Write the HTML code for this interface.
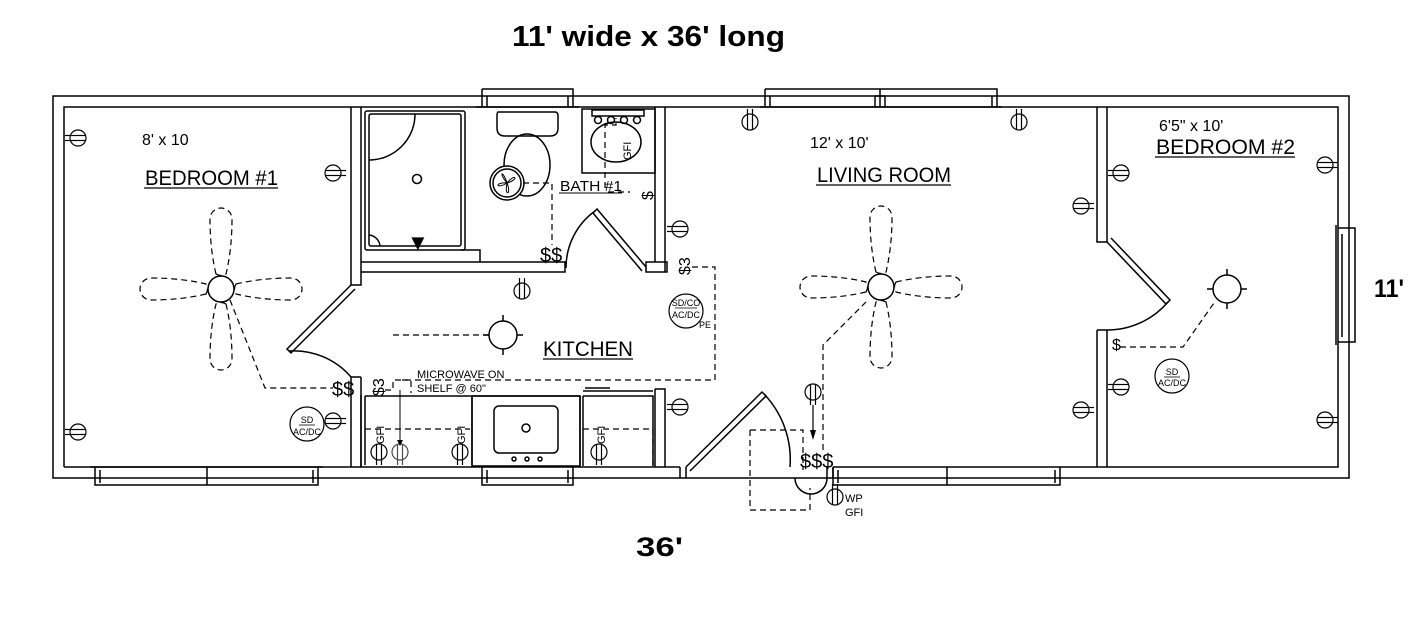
<!DOCTYPE html>
<html><head><meta charset="utf-8"><style>
html,body{margin:0;padding:0;background:#fff;}
svg{display:block}
text{font-family:"Liberation Sans",sans-serif;fill:#000}
</style></head><body>
<svg width="1425" height="617" viewBox="0 0 1425 617" xmlns="http://www.w3.org/2000/svg">
<defs>
<g id="rec" fill="#fff" stroke="#000" stroke-width="1.2"><line x1="0" y1="-2.5" x2="13" y2="-2.5"/><line x1="0" y1="2.5" x2="13" y2="2.5"/><circle r="8"/><line x1="-8" y1="-2.5" x2="8" y2="-2.5"/><line x1="-8" y1="2.5" x2="8" y2="2.5"/></g>
<g id="blade" fill="none" stroke="#000" stroke-width="1.2" stroke-dasharray="6,4"><path d="M-5,-15 Q-11,-40 -11,-70 A11,11 0 0 1 11,-70 Q11,-40 5,-15 Q0,-12 -5,-15Z"/></g>
</defs>
<rect width="1425" height="617" fill="#fff"/>
<text x="512" y="46" font-size="29" font-weight="bold" textLength="273" lengthAdjust="spacingAndGlyphs">11' wide x 36' long</text>
<text x="636" y="556" font-size="27" font-weight="bold" textLength="47" lengthAdjust="spacingAndGlyphs">36'</text>
<text x="1374" y="297" font-size="25" font-weight="bold" textLength="30" lengthAdjust="spacingAndGlyphs">11'</text>

<g fill="none" stroke="#000" stroke-width="1.5">
<rect x="53" y="96" width="1296" height="382"/>
<path d="M64,467 V107 H1338 V467 H833 M680,467 H64"/>
<path d="M351,107 V285 H361 V107 M351,377 V467 M361,377 V467 M351,377 H361"/>
<path d="M361,262 H565 V272 H361"/>
<rect x="365" y="111" width="100" height="139" rx="2"/>
<rect x="369" y="114" width="92" height="132" rx="2"/>
<path d="M461,250 H480 V262"/>
<path d="M369,160 A46,46 0 0 0 415,114"/>
<path d="M369,235 A12,12 0 0 1 380,246"/>
<circle cx="417" cy="179" r="4.5"/>
<path d="M655,107 V262 M665,107 V272 M646,262 H667 V272 H646 Z"/>
<path d="M498,112 H555 Q558,112 558,116 V128 Q558,136 550,136 H505 Q497,136 497,128 V116 Q497,112 498,112Z"/>
<ellipse cx="527" cy="165" rx="23" ry="31"/>
<rect x="582" y="109" width="73" height="64"/>
<rect x="592" y="110" width="52" height="6"/>
<ellipse cx="616" cy="142" rx="25" ry="20"/>
<circle cx="598" cy="120" r="3.5"/><circle cx="611" cy="120" r="3.5"/><circle cx="624" cy="120" r="3.5"/><circle cx="637" cy="120" r="3.5"/>
<circle cx="507" cy="183" r="17" fill="#fff"/><circle cx="507" cy="183" r="14"/>
<path d="M507,183 C498,172 503,170 507,183 C516,172 519,180 507,183 C512,195 504,197 507,183 C496,190 494,182 507,183" stroke-width="1"/>
<path d="M1097,107 V242 H1107 V107 M1097,330 V467 M1107,330 V467 M1097,330 H1107"/>
<path d="M361,395 V467 M365,396 H472 V465 M472,396 H580 V465 M365,396 V465"/>
<rect x="472" y="396" width="108" height="70"/>
<rect x="494" y="406" width="64" height="47" rx="5"/>
<circle cx="526" cy="428" r="4"/>
<circle cx="514" cy="459" r="2"/><circle cx="527" cy="459" r="2"/><circle cx="540" cy="459" r="2"/>
<path d="M583,396 H653 V466 M583,396 V466 M583,391 H653 M585,388 H610"/>
<path d="M655,389 H665 V467 M655,389 V467"/>
<path d="M482,89 H573 V107 M482,89 V107 M487,96 V107 M568,96 V107 M476,107 H579"/>
<path d="M765,89 H997 V107 M765,89 V107 M880,89 V107 M770,96 V107 M992,96 V107 M875,96 H885 V107 M875,96 V107 M760,107 H1002"/>
<path d="M90,467 H323 M95,467 V485 H318 V467 M207,467 V485 M100,470 V483 M313,470 V483"/>
<path d="M482,467 V485 H573 V467 M487,470 V483 M568,470 V483"/>
<path d="M833,467 V485 H1060 V467 M947,467 V485 M838,470 V483 M1055,470 V483"/>
<path d="M1338,228 H1355 V342 H1338 M1336,225 V345 M1342,234 V337"/>
<path d="M680,467 V478 M686,467 V478 M827,467 V478 M833,467 V478"/>
<path d="M351,285 L287,349 L291,353 L355,289"/>
<path d="M289,351 A75,75 0 0 1 351,377"/>
<path d="M646,267 L597,209 L593,213 L642,271"/>
<path d="M595,211 A70,70 0 0 0 566,268"/>
<path d="M1107,242 L1166,304 L1170,300 L1111,238"/>
<path d="M1168,302 A80,80 0 0 1 1107,330"/>
<path d="M686,467 L762,392 L766,396 L690,471"/>
<path d="M764,394 A95,95 0 0 1 790,467"/>
<path d="M795,478 A16,16 0 0 0 827,478"/>
<circle cx="503" cy="335" r="14"/><path d="M503,315 V321 M503,349 V355 M483,335 H489 M517,335 H523"/>
<circle cx="1227" cy="289" r="14"/><path d="M1227,269 V275 M1227,303 V309 M1207,289 H1213 M1241,289 H1247"/>
<circle cx="221" cy="289" r="13"/>
<circle cx="881" cy="287" r="13"/>
</g>
<text x="407" y="250" font-size="22">▼</text>

<g transform="translate(221,289)"><use href="#blade"/><use href="#blade" transform="rotate(90)"/><use href="#blade" transform="rotate(180)"/><use href="#blade" transform="rotate(270)"/></g>
<g transform="translate(881,287)"><use href="#blade"/><use href="#blade" transform="rotate(90)"/><use href="#blade" transform="rotate(180)"/><use href="#blade" transform="rotate(270)"/></g>

<use href="#rec" transform="translate(78,138) rotate(180)"/>
<use href="#rec" transform="translate(78,432) rotate(180)"/>
<use href="#rec" transform="translate(333,173)"/>
<use href="#rec" transform="translate(333,421)"/>
<use href="#rec" transform="translate(680,229) rotate(180)"/>
<use href="#rec" transform="translate(680,407) rotate(180)"/>
<use href="#rec" transform="translate(750,122) rotate(-90)"/>
<use href="#rec" transform="translate(1019,122) rotate(-90)"/>
<use href="#rec" transform="translate(1081,206)"/>
<use href="#rec" transform="translate(1081,410)"/>
<use href="#rec" transform="translate(1121,173) rotate(180)"/>
<use href="#rec" transform="translate(1121,387) rotate(180)"/>
<use href="#rec" transform="translate(1325,165)"/>
<use href="#rec" transform="translate(1325,420)"/>
<use href="#rec" transform="translate(522,291) rotate(-90)"/>
<use href="#rec" transform="translate(379,452) rotate(90)"/>
<use href="#rec" transform="translate(460,452) rotate(90)"/>
<use href="#rec" transform="translate(599,452) rotate(90)"/>
<use href="#rec" transform="translate(813,392) rotate(90)"/>
<use href="#rec" transform="translate(835,497) rotate(-90)"/>
<use href="#rec" transform="translate(400,452) rotate(90)" opacity="0.7"/>

<g fill="none" stroke="#000" stroke-width="1.2" stroke-dasharray="6,4">
<path d="M230,300 L265,388 H333"/>
<path d="M523,183 H552 V245"/>
<path d="M608,192 H630 M605,188 V125 H616 V118"/>
<path d="M692,267 H715 V380 H393 V390 H381"/>
<path d="M393,335 H490"/>
<path d="M365,429 H470 M583,429 H653 V466"/>
<path d="M823,450 V345 L868,300"/>
<path d="M750,430 H803 V470 M750,430 V510 H810 V488"/>
<path d="M1120,347 H1183 L1214,303"/>
<path d="M402,380 H411 V393"/>
</g>
<line x1="400" y1="390" x2="400" y2="440" stroke="#000" stroke-width="1"/>
<path d="M397,440 L400,446 L403,440Z" fill="#000"/>
<line x1="813" y1="405" x2="813" y2="432" stroke="#000" stroke-width="1.2"/>
<path d="M810,430 L813,440 L816,430Z" fill="#000"/>

<g font-size="20">
<text x="540" y="262">$$</text>
<text x="332" y="396">$$</text>
<text x="800" y="468">$$$</text>
</g>
<g font-size="16">
<text transform="translate(653,200) rotate(-90)">$</text>
<text transform="translate(690,275) rotate(-90)">$3</text>
<text transform="translate(384,396) rotate(-90)">$3</text>
<text x="1112" y="350">$</text>
</g>
<g font-size="11">
<text transform="translate(631,160) rotate(-90)">GFI</text>
<text transform="translate(384,444) rotate(-90)">GFI</text>
<text transform="translate(465,444) rotate(-90)">GFI</text>
<text transform="translate(605,444) rotate(-90)">GFI</text>
<text x="417" y="378">MICROWAVE ON</text>
<text x="417" y="392">SHELF @ 60"</text>
<text x="845" y="502">WP</text>
<text x="845" y="516">GFI</text>
<text x="699" y="328" font-size="9">PE</text>
</g>
<g fill="none" stroke="#000" stroke-width="1.2">
<circle cx="307" cy="424" r="17"/><circle cx="1172" cy="376" r="17"/><circle cx="686" cy="311" r="17"/>
</g>
<g font-size="9" text-anchor="middle">
<text x="307" y="423">SD</text><text x="307" y="435">AC/DC</text>
<text x="1172" y="375">SD</text><text x="1172" y="386">AC/DC</text>
<text x="686" y="306">SD/CO</text><text x="686" y="318">AC/DC</text>
</g>
<line x1="299" y1="425" x2="315" y2="425" stroke="#000" stroke-width="0.8"/>
<line x1="1164" y1="377" x2="1180" y2="377" stroke="#000" stroke-width="0.8"/>
<line x1="675" y1="308" x2="697" y2="308" stroke="#000" stroke-width="0.8"/>

<text x="142" y="145" font-size="16">8' x 10</text>
<text x="145" y="185" font-size="21" textLength="133" lengthAdjust="spacingAndGlyphs">BEDROOM #1</text>
<line x1="144" y1="188" x2="278" y2="188" stroke="#000" stroke-width="1.2"/>
<text x="810" y="148" font-size="16">12' x 10'</text>
<text x="817" y="182" font-size="21" textLength="134" lengthAdjust="spacingAndGlyphs">LIVING ROOM</text>
<line x1="816" y1="185" x2="951" y2="185" stroke="#000" stroke-width="1.2"/>
<text x="1159" y="131" font-size="16">6'5" x 10'</text>
<text x="1156" y="154" font-size="21" textLength="139" lengthAdjust="spacingAndGlyphs">BEDROOM #2</text>
<line x1="1155" y1="157" x2="1295" y2="157" stroke="#000" stroke-width="1.2"/>
<text x="560" y="191" font-size="15" textLength="62" lengthAdjust="spacingAndGlyphs">BATH #1</text>
<line x1="559" y1="193" x2="622" y2="193" stroke="#000" stroke-width="1"/>
<text x="543" y="356" font-size="21" textLength="90" lengthAdjust="spacingAndGlyphs">KITCHEN</text>
<line x1="543" y1="359" x2="633" y2="359" stroke="#000" stroke-width="1.2"/>
</svg>
</body></html>
